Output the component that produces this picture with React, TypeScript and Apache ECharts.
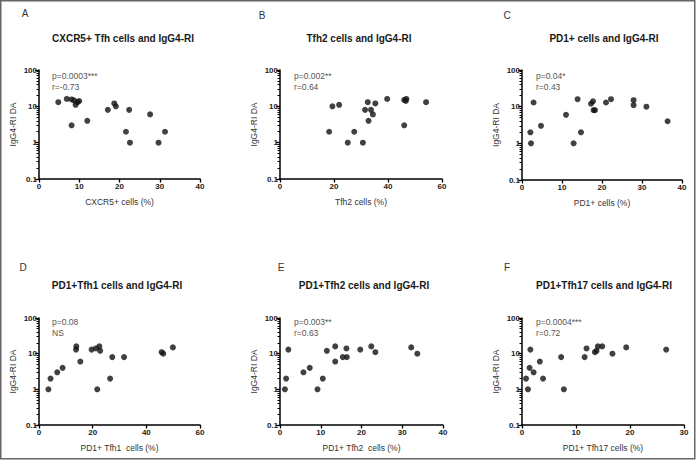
import React, { useEffect, useRef } from "react";
import * as echarts from "echarts";

// ---- Data ----
const panelLetters = ["A", "B", "C", "D", "E", "F"];
const panelTitles = [
  "CXCR5+ Tfh cells and IgG4-RI",
  "Tfh2 cells and IgG4-RI",
  "PD1+ cells and IgG4-RI",
  "PD1+Tfh1 cells and IgG4-RI",
  "PD1+Tfh2 cells and IgG4-RI",
  "PD1+Tfh17 cells and IgG4-RI",
];
const xAxisNames = [
  "CXCR5+ cells (%)",
  "Tfh2 cells (%)",
  "PD1+ cells (%)",
  "PD1+ Tfh1  cells (%)",
  "PD1+ Tfh2  cells (%)",
  "PD1+ Tfh17 cells (%)",
];
const yAxisName = "IgG4-RI DA";
const pTexts = ["p=0.0003***", "p=0.002**", "p=0.04*", "p=0.08", "p=0.003**", "p=0.0004***"];
const rTexts = ["r=-0.73", "r=0.64", "r=0.43", "NS", "r=0.63", "r=0.72"];
const xMaxes = [40, 60, 40, 60, 40, 30];
const xIntervals = [10, 20, 10, 20, 10, 10];
const yTickValues = [0.1, 1, 10, 100];
const yTickLabels = ["0.1", "1", "10", "100"];
const yMinorTickValues = [
  0.2, 0.3, 0.4, 0.5, 0.6, 0.7, 0.8, 0.9,
  2, 3, 4, 5, 6, 7, 8, 9,
  20, 30, 40, 50, 60, 70, 80, 90,
];

const aCxcr5 = [4.8, 6.9, 8.1, 8.7, 9.1, 9.6, 10.0, 8.1, 12.0, 17.1, 18.7, 19.1, 21.6, 22.4, 22.6, 27.6, 29.7, 31.3];
const aIgg4 = [13, 16, 15.5, 14.5, 11, 13, 14, 3, 4, 8, 12, 10, 2, 8, 1, 6, 1, 2];

const bTfh2 = [18.2, 19.4, 21.9, 25.1, 27.5, 30.7, 31.5, 32.5, 32.8, 33.7, 34.4, 35.3, 39.7, 46.0, 46.0, 46.6, 46.8, 54.1];
const bIgg4 = [2, 10, 11, 1, 2, 1, 8, 13, 4, 8, 6, 12, 16, 15, 3, 14, 16, 13];

const cPd1 = [2.1, 2.25, 2.9, 4.75, 11.0, 12.9, 13.9, 14.75, 17.25, 17.75, 17.9, 18.25, 21.0, 22.25, 27.9, 27.9, 31.1, 36.4];
const cIgg4 = [2, 1, 13, 3, 6, 1, 16, 2, 12, 14, 8, 8, 13, 16, 15, 11, 10, 4];

const dPd1Tfh1 = [3.5, 4.3, 6.8, 8.8, 13.8, 13.9, 15.4, 19.6, 21.2, 21.7, 22.5, 22.8, 26.5, 27.3, 31.7, 45.7, 46.3, 49.9];
const dIgg4 = [1, 2, 3, 4, 13, 16, 6, 13, 14, 1, 16, 12, 2, 8, 8, 11, 10, 15];

const ePd1Tfh2 = [1.2, 1.5, 2.05, 5.75, 7.3, 9.2, 10.5, 11.5, 13.55, 13.55, 15.4, 16.3, 16.4, 19.7, 22.4, 23.4, 32.2, 33.7];
const eIgg4 = [1, 2, 13, 3, 4, 1, 2, 12, 16, 6, 8, 14, 8, 13, 16, 11, 15, 10];

const fPd1Tfh17 = [0.75, 1.1, 1.4, 1.55, 2.15, 3.3, 3.9, 7.25, 7.75, 11.6, 11.95, 13.5, 13.8, 14.05, 14.85, 16.75, 19.3, 26.7];
const fIgg4 = [2, 1, 4, 13, 3, 6, 2, 8, 1, 8, 14, 11, 12, 16, 16, 10, 15, 13];

const panelX = [aCxcr5, bTfh2, cPd1, dPd1Tfh1, ePd1Tfh2, fPd1Tfh17];
const panelY = [aIgg4, bIgg4, cIgg4, dIgg4, eIgg4, fIgg4];

// ---- Layout ----
const grids = [
  { left: 39, top: 70, width: 161, height: 109 },
  { left: 280, top: 70, width: 162, height: 109 },
  { left: 522, top: 70, width: 160, height: 110 },
  { left: 39, top: 318, width: 161, height: 107 },
  { left: 280, top: 318, width: 163, height: 107 },
  { left: 522, top: 318, width: 162, height: 107 },
];
const letterPos = [
  [25, 13], [262, 15], [507, 15], [23, 267], [281, 267], [507, 267],
];
const titlePos = [
  [123, 38], [359, 38], [604, 38], [117, 285], [364, 285], [604, 285],
];
const annotPos = [
  [52, 76], [294, 76], [536, 76], [52, 322], [294, 322], [536, 322],
];

const FONT = "Liberation Sans, Arial, sans-serif";

function yLabel(v: number): string {
  for (let i = 0; i < yTickValues.length; i++) {
    if (Math.abs(Math.log10(yTickValues[i]) - Math.log10(v)) < 1e-6) return yTickLabels[i];
  }
  return "";
}

export default function App() {
  const ref = useRef<HTMLDivElement>(null);
  useEffect(() => {
    if (!ref.current) return;
    const chart = echarts.init(ref.current, undefined, { renderer: "svg" });

    const xAxis: any[] = [];
    const yAxis: any[] = [];
    const series: any[] = [];
    const graphic: any[] = [];

    for (let i = 0; i < 6; i++) {
      xAxis.push({
        type: "value",
        gridIndex: i,
        min: 0,
        max: xMaxes[i],
        interval: xIntervals[i],
        name: xAxisNames[i],
        nameLocation: "middle",
        nameGap: 18,
        nameTextStyle: { fontFamily: FONT, fontSize: 8.5, color: "#333" },
        axisLine: { show: true, onZero: false, lineStyle: { color: "#000", width: 1.5 } },
        axisTick: { show: true, length: 3.5, lineStyle: { color: "#000", width: 1.3 } },
        axisLabel: { fontFamily: FONT, fontSize: 8, fontWeight: "bold", color: "#222", margin: 3 },
        splitLine: { show: false },
      });
      yAxis.push({
        type: "log",
        logBase: 10,
        gridIndex: i,
        position: "left",
        min: 0.1,
        max: 100,
        name: yAxisName,
        nameLocation: "middle",
        nameGap: 22,
        nameRotate: 90,
        nameTextStyle: { fontFamily: FONT, fontSize: 8.5, color: "#333" },
        axisLine: { show: true, onZero: false, lineStyle: { color: "#000", width: 1.5 } },
        axisTick: { show: true, length: 4, customValues: yTickValues, lineStyle: { color: "#000", width: 1.3 } },
        axisLabel: {
          fontFamily: FONT,
          fontSize: 8,
          fontWeight: "bold",
          color: "#222",
          margin: 2,
          customValues: yTickValues,
          formatter: (v: number) => yLabel(v),
        },
        splitLine: { show: false },
      });
      yAxis.push({
        type: "log",
        logBase: 10,
        gridIndex: i,
        position: "left",
        min: 0.1,
        max: 100,
        axisLine: { show: false },
        axisTick: { show: true, length: 2.5, customValues: yMinorTickValues, lineStyle: { color: "#000", width: 1 } },
        axisLabel: { show: false },
        splitLine: { show: false },
      });
      series.push({
        type: "scatter",
        xAxisIndex: i,
        yAxisIndex: 2 * i,
        symbol: "circle",
        symbolSize: 6,
        itemStyle: { color: "#111" },
        clip: false,
        data: panelX[i].map((x, k) => [x, panelY[i][k]]),
      });

      graphic.push({
        type: "text",
        x: letterPos[i][0],
        y: letterPos[i][1],
        style: {
          text: panelLetters[i],
          fontFamily: FONT,
          fontSize: 10,
          fill: "#333",
          textAlign: "center",
          textVerticalAlign: "middle",
        },
      });
      graphic.push({
        type: "text",
        x: titlePos[i][0],
        y: titlePos[i][1],
        style: {
          text: panelTitles[i],
          fontFamily: FONT,
          fontSize: 10,
          fontWeight: "bold",
          fill: "#1a1a1a",
          textAlign: "center",
          textVerticalAlign: "middle",
        },
      });
      graphic.push({
        type: "text",
        x: annotPos[i][0],
        y: annotPos[i][1],
        style: {
          text: pTexts[i],
          fontFamily: FONT,
          fontSize: 8.5,
          fill: "#555",
          textAlign: "left",
          textVerticalAlign: "middle",
        },
      });
      graphic.push({
        type: "text",
        x: annotPos[i][0],
        y: annotPos[i][1] + 11,
        style: {
          text: rTexts[i],
          fontFamily: FONT,
          fontSize: 8.5,
          fill: "#555",
          textAlign: "left",
          textVerticalAlign: "middle",
        },
      });
    }

    graphic.push({
      type: "rect",
      shape: { x: 0.75, y: 0.75, width: 694, height: 458 },
      style: { fill: "none", stroke: "#666", lineWidth: 1.5 },
      silent: true,
    });

    chart.setOption({
      animation: false,
      backgroundColor: "#fff",
      grid: grids.map((g) => ({ ...g, containLabel: false })),
      xAxis,
      yAxis,
      series,
      graphic,
    });
    return () => chart.dispose();
  }, []);

  return (
    <div
      ref={ref}
      style={{ position: "fixed", left: 0, top: 0, width: 697, height: 461 }}
    />
  );
}
